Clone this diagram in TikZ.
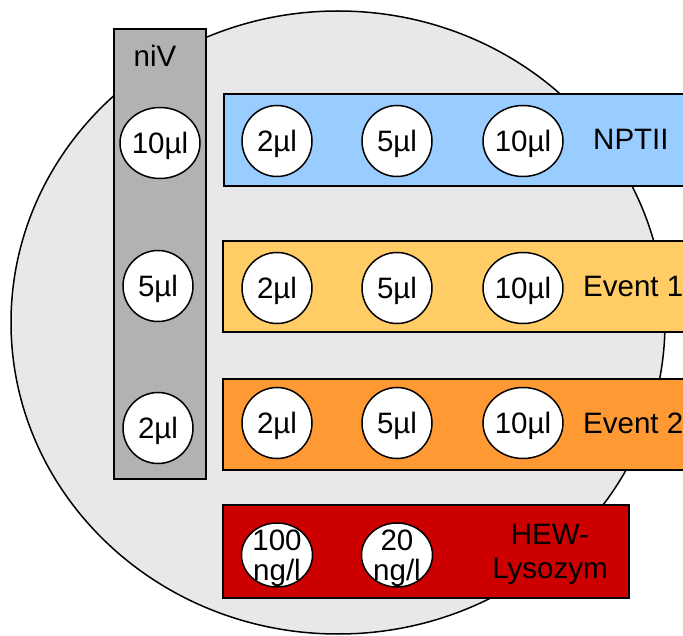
\documentclass[tikz,border=0pt]{standalone}
\usepackage{fontspec}
\setmainfont{Liberation Sans}
\usepackage{tikz}
\usetikzlibrary{shapes, positioning}
\definecolor{plategray}{HTML}{E8E8E8}
\definecolor{nivgray}{HTML}{B2B2B2}
\definecolor{nptblue}{HTML}{99CCFF}
\definecolor{evyellow}{HTML}{FFCC66}
\definecolor{evorange}{HTML}{FF9933}
\definecolor{hewred}{HTML}{CC0000}
\tikzstyle{bar} = [rectangle, draw, line width=1.5pt, inner sep=0pt]
\tikzstyle{well} = [ellipse, draw, fill=white, line width=1.5pt, inner sep=0pt, text depth=0pt, minimum width=70pt, minimum height=71pt]
\tikzstyle{wwell} = [well, minimum width=80pt]
\tikzstyle{welltext} = [inner sep=0pt, text depth=0pt, align=center]
\tikzstyle{tag} = [inner sep=0pt, anchor=base west]

\begin{document}
\begin{tikzpicture}[x=1pt, y=-1pt, font=\fontsize{29.5}{34}\selectfont]
			\useasboundingbox (0,0) rectangle (683,636);
			\clip (0,0) rectangle (683,636);
			\node [ellipse, draw, fill=plategray, line width=1.5pt, inner sep=0pt, minimum width=654pt, minimum height=623pt] (plate) at (338,322.5) {};
			
			\node [bar, fill=nivgray, minimum width=92pt, minimum height=450pt] (niv) at (160,254) {};
			\node [bar, fill=nptblue, minimum width=496pt, minimum height=92pt] (nptii) at (472,140) {};
			\node [bar, fill=evyellow, minimum width=496pt, minimum height=91pt] (ev1) at (471,286.5) {};
			\node [bar, fill=evorange, minimum width=496pt, minimum height=91pt] (ev2) at (471,424.5) {};
			\node [bar, fill=hewred, minimum width=406pt, minimum height=93pt] (hew) at (426,551.5) {};
			
			\node [inner sep=0pt, anchor=base] (nivlabel) at (155,67) {niV};
			\node [tag] (nptiilabel) at (593,150) {NPTII};
			\node [tag] (ev1label) at (583,297) {Event 1};
			\node [tag] (ev2label) at (583,433) {Event 2};
			\node [inner sep=0pt, align=center] (hewlabel) at (550,554) {HEW-\\Lysozym};
			
			\node [wwell] (niv10) at (160,143) {10µl};
			\node [well] (niv5) at (158,286) {5µl};
			\node [well] (niv2) at (158,428) {2µl};
			
			\node [well] (nptii2) at (277,141) {2µl};
			\node [well] (nptii5) at (397,141) {5µl};
			\node [wwell] (nptii10) at (523,141) {10µl};
			
			\node [well] (ev1w2) at (277,288) {2µl};
			\node [well] (ev1w5) at (397,288) {5µl};
			\node [wwell] (ev1w10) at (523,288) {10µl};
			
			\node [well] (ev2w2) at (277,423) {2µl};
			\node [well] (ev2w5) at (397,423) {5µl};
			\node [wwell] (ev2w10) at (523,423) {10µl};
			
			\node [well, minimum width=71pt, minimum height=64pt, label={[welltext]center:{100\\[-4pt]ng/l}}] (hew100) at (277,555) {};
			\node [well, minimum width=71pt, minimum height=64pt, label={[welltext]center:{20\\[-4pt]ng/l}}] (hew20) at (397,555) {};
		\end{tikzpicture}
\end{document}
